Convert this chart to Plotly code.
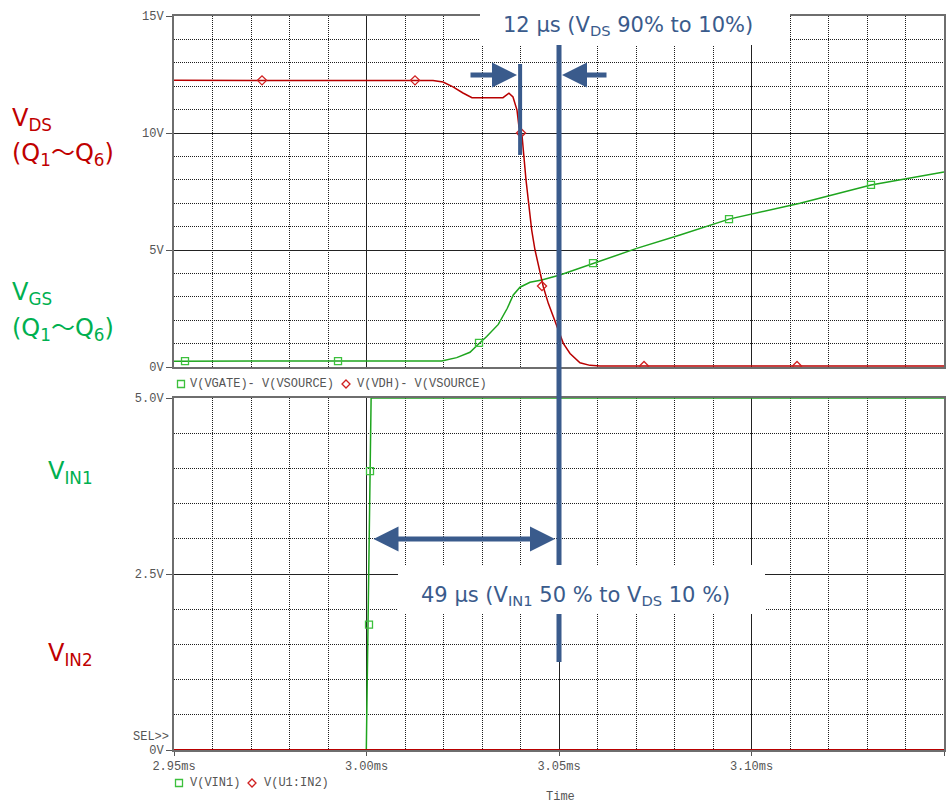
import plotly.graph_objects as go

# ---------------- data ----------------
# Top panel: V(VDH)-V(VSOURCE)  (V_DS, red)
vds_t = [2.95, 3.01727, 3.01987, 3.02247, 3.02506, 3.0274, 3.03545, 3.0370, 3.03805,
         3.03909, 3.0396, 3.04039, 3.04143, 3.04291, 3.04377, 3.04506, 3.04592, 3.04722,
         3.04852, 3.0494, 3.05112, 3.05286, 3.05545, 3.05805, 3.06065, 3.15]
vds_v = [12.25, 12.24, 12.18, 11.97, 11.71, 11.51, 11.51, 11.70, 11.54,
         10.98, 10.26, 9.91, 7.99, 5.85, 5.0, 4.0, 3.43, 2.72,
         2.15, 1.72, 1.01, 0.58, 0.18, 0.07, 0.04, 0.04]
vds_mk_t = [2.97286, 3.0126, 3.04013, 3.04558, 3.07208, 3.11182]
vds_mk_v = [12.25, 12.25, 10.0, 3.46, 0.04, 0.04]

# Top panel: V(VGATE)-V(VSOURCE)  (V_GS, green)
vgs_t = [2.95, 3.01953, 3.02343, 3.02688, 3.02904, 3.03122, 3.03423, 3.03657, 3.03813,
         3.03987, 3.04247, 3.04551, 3.05026, 3.05891, 3.07018, 3.08143, 3.09416, 3.1126,
         3.13104, 3.15]
vgs_v = [0.25, 0.26, 0.40, 0.63, 0.97, 1.30, 1.82, 2.51, 3.08,
         3.41, 3.62, 3.72, 3.93, 4.43, 5.07, 5.64, 6.32, 7.0,
         7.78, 8.33]
vgs_mk_t = [2.95286, 2.9926, 3.02922, 3.05883, 3.09416, 3.13104]
vgs_mk_v = [0.25, 0.25, 1.03, 4.44, 6.32, 7.78]

# Bottom panel: V(VIN1) (green) and V(U1:IN2) (red)
vin1_t = [2.95, 2.99995, 3.0012, 3.15]
vin1_v = [0.0, 0.0, 5.0, 5.0]
vin1_mk_t = [3.00065, 3.00091]
vin1_mk_v = [1.78, 3.96]
vin2_t = [2.95, 3.15]
vin2_v = [0.0, 0.0]

# tick labels
x_tick_vals = [2.95, 3.00, 3.05, 3.10, 3.15]
x_tick_text = ["2.95ms", "3.00ms", "3.05ms", "3.10ms", "3.15ms\u00a0\u00a0\u00a0\u00a0\u00a0\u00a0"]
top_tick_vals = [0, 5, 10, 15]
top_tick_text = ["0V", "5V", "10V", "15V"]
bot_tick_vals = [0, 2.5, 5.0]
bot_tick_text = ["0V", "2.5V", "5.0V"]

# measurement positions (time, ms)
t_vds90 = 3.0399
t_vds10 = 3.05

# ---------------- style ----------------
W, H = 946, 805
GREEN = "#1ea51e"
RED = "#b80000"
LBL_RED = "#c00000"
LBL_GREEN = "#00b050"
BLUE = "#3a5b8c"
MONO = "Liberation Mono"
SANS = "DejaVu Sans"
TILDE = "<span style=\"font-family:'Noto Sans CJK JP'\">～</span>"


def px(x):
    return x / W


def py(y):
    return 1 - y / H


fig = go.Figure()

# top panel traces
fig.add_trace(go.Scatter(x=vgs_t, y=vgs_v, mode="lines", line=dict(color=GREEN, width=1.5),
                         xaxis="x2", yaxis="y2", showlegend=False))
fig.add_trace(go.Scatter(x=vds_t, y=vds_v, mode="lines", line=dict(color=RED, width=1.5),
                         xaxis="x2", yaxis="y2", showlegend=False))
fig.add_trace(go.Scatter(x=vgs_mk_t, y=vgs_mk_v, mode="markers",
                         marker=dict(symbol="square-open", size=7, color="#3cc03c", line=dict(width=1.3)),
                         xaxis="x2", yaxis="y2", showlegend=False))
fig.add_trace(go.Scatter(x=vds_mk_t, y=vds_mk_v, mode="markers",
                         marker=dict(symbol="diamond-open", size=7, color="#d02020", line=dict(width=1.3)),
                         xaxis="x2", yaxis="y2", showlegend=False))

# bottom panel traces
fig.add_trace(go.Scatter(x=vin1_t, y=vin1_v, mode="lines", line=dict(color=GREEN, width=1.5),
                         xaxis="x", yaxis="y", showlegend=False))
fig.add_trace(go.Scatter(x=vin2_t, y=vin2_v, mode="lines", line=dict(color=RED, width=2),
                         xaxis="x", yaxis="y", showlegend=False))
fig.add_trace(go.Scatter(x=vin1_mk_t, y=vin1_mk_v, mode="markers",
                         marker=dict(symbol="square-open", size=7, color="#3cc03c", line=dict(width=1.3)),
                         xaxis="x", yaxis="y", showlegend=False))

tickfont = dict(family=MONO, size=12, color="#555555")
axis_common = dict(showline=True, mirror=True, linecolor="#6e6e6e", linewidth=2,
                   showgrid=True, gridcolor="#222222", gridwidth=1, zeroline=False,
                   tickfont=tickfont, tickcolor="#555555", automargin=False)
minor_common = dict(showgrid=True, griddash="1px,1px", gridcolor="#1e1e1e", gridwidth=1)

fig.update_layout(
    width=W, height=H, autosize=False,
    margin=dict(l=0, r=0, t=0, b=0, pad=0, autoexpand=False),
    paper_bgcolor="white", plot_bgcolor="white",
    showlegend=False,
    xaxis=dict(domain=[px(174), px(944)], range=[2.95, 3.15], anchor="y",
               tickmode="array", tickvals=x_tick_vals, ticktext=x_tick_text,
               ticks="outside", ticklen=4,
               minor=dict(dtick=0.01, tick0=2.95, **minor_common),
               **axis_common),
    xaxis2=dict(domain=[px(174), px(944)], range=[2.95, 3.15], anchor="y2", matches="x",
                showticklabels=False, ticks="",
                tickmode="array", tickvals=x_tick_vals,
                minor=dict(dtick=0.01, tick0=2.95, **minor_common),
                **axis_common),
    yaxis=dict(domain=[py(750), py(398)], range=[0, 5], anchor="x",
               tickmode="array", tickvals=bot_tick_vals, ticktext=bot_tick_text,
               ticks="outside", ticklen=6,
               minor=dict(dtick=0.5, tick0=0, **minor_common),
               **axis_common),
    yaxis2=dict(domain=[py(367), py(16)], range=[0, 15], anchor="x2",
                tickmode="array", tickvals=top_tick_vals, ticktext=top_tick_text,
                ticks="outside", ticklen=6,
                minor=dict(dtick=1, tick0=0, **minor_common),
                **axis_common),
)

shapes = []
# measurement lines
shapes.append(dict(type="line", xref="x2", yref="paper", x0=t_vds10, x1=t_vds10,
                   y0=py(662), y1=py(43), line=dict(color=BLUE, width=5), layer="above"))
shapes.append(dict(type="line", xref="x2", yref="paper", x0=t_vds90, x1=t_vds90,
                   y0=py(155), y1=py(64), line=dict(color=BLUE, width=4), layer="above"))
# white label boxes
shapes.append(dict(type="rect", xref="paper", yref="paper", x0=px(480), x1=px(790),
                   y0=py(45), y1=py(0), fillcolor="white", line=dict(width=0), layer="above"))
shapes.append(dict(type="rect", xref="paper", yref="paper", x0=px(398), x1=px(765),
                   y0=py(614), y1=py(565), fillcolor="white", line=dict(width=0), layer="above"))
# legend symbols
for (cx, cy) in [(181, 384), (179, 783)]:
    shapes.append(dict(type="rect", xref="paper", yref="paper", x0=px(cx - 3.5), x1=px(cx + 3.5),
                       y0=py(cy + 3.5), y1=py(cy - 3.5), line=dict(color="#3cc03c", width=1.3),
                       fillcolor="rgba(0,0,0,0)"))
for (cx, cy) in [(346, 384), (252, 783)]:
    path = "M {} {} L {} {} L {} {} L {} {} Z".format(
        px(cx), py(cy - 4), px(cx + 4), py(cy), px(cx), py(cy + 4), px(cx - 4), py(cy))
    shapes.append(dict(type="path", xref="paper", yref="paper", path=path,
                       line=dict(color="#d02020", width=1.3)))
fig.update_layout(shapes=shapes)

ann = []


def text(x, y, s, color, size, family, xanchor="left", yanchor="middle"):
    ann.append(dict(xref="paper", yref="paper", x=px(x), y=py(y), text=s, showarrow=False,
                    xanchor=xanchor, yanchor=yanchor, font=dict(color=color, size=size, family=family)))


# legends
text(188, 384, "V(VGATE)- V(VSOURCE)", "#555555", 12, MONO)
text(355, 384, "V(VDH)- V(VSOURCE)", "#555555", 12, MONO)
text(188, 783, "V(VIN1)", "#555555", 12, MONO)
text(262, 783, "V(U1:IN2)", "#555555", 12, MONO)
text(560, 797, "Time", "#555555", 12, MONO, xanchor="center")
text(171, 737, "SEL>>", "#555555", 12, MONO, xanchor="right")

# left labels
text(10, 119, "V<sub>DS</sub>", LBL_RED, 24, SANS)
text(10, 152, "(Q<sub>1</sub>" + TILDE + "Q<sub>6</sub>)", LBL_RED, 24, SANS)
text(10, 293, "V<sub>GS</sub>", LBL_GREEN, 24, SANS)
text(10, 326, "(Q<sub>1</sub>" + TILDE + "Q<sub>6</sub>)", LBL_GREEN, 24, SANS)
text(46, 472, "V<sub>IN1</sub>", LBL_GREEN, 24, SANS)
text(46, 654, "V<sub>IN2</sub>", LBL_RED, 24, SANS)

# measurement texts
text(628, 26, "12 µs (V<sub>DS</sub> 90% to 10%)", BLUE, 21, SANS, xanchor="center")
text(575, 596, "49 µs (V<sub>IN1</sub> 50 % to V<sub>DS</sub> 10 %)", BLUE, 21, SANS, xanchor="center")

# arrows
arrow = dict(xref="paper", yref="paper", text="", showarrow=True, arrowcolor=BLUE,
             arrowwidth=5, arrowhead=2, arrowsize=1.0, standoff=0, startstandoff=0)
ann.append(dict(arrow, x=px(517), y=py(75), ax=-48, ay=0))
ann.append(dict(arrow, x=px(562), y=py(75), ax=46, ay=0))
ann.append(dict(arrow, x=px(555), y=py(539), ax=-183, ay=0, arrowside="end+start", startarrowhead=2,
                startarrowsize=1.0))

fig.update_layout(annotations=ann)

fig.write_html("out.html", config={"displayModeBar": False},
               post_script="document.body.style.margin='0';document.body.style.overflow='hidden';")
